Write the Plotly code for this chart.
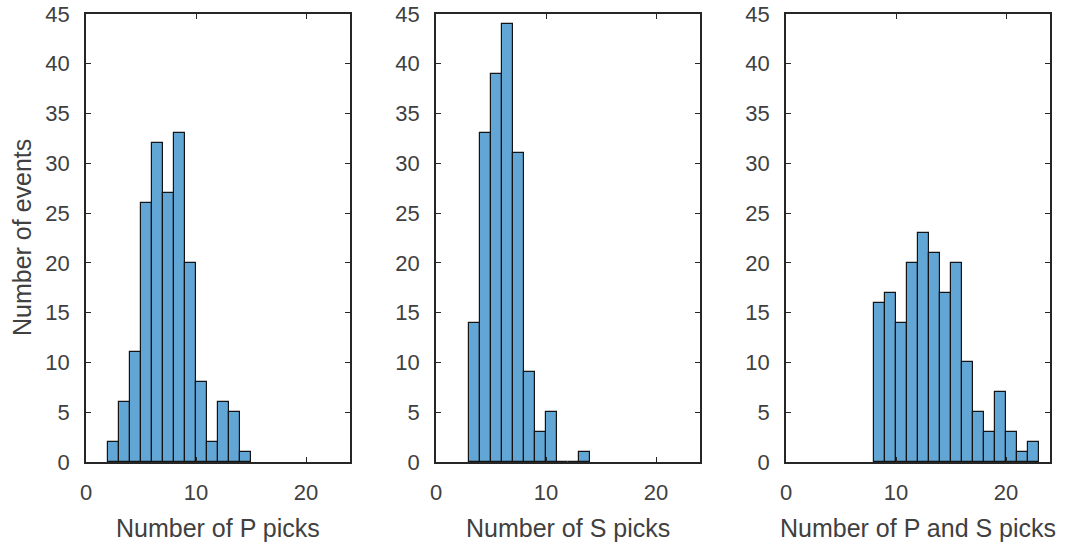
import plotly.graph_objects as go

# Histogram counts per unit-width bin (left edges given)
p_edges = [2, 3, 4, 5, 6, 7, 8, 9, 10, 11, 12, 13, 14]
p_counts = [2, 6, 11, 26, 32, 27, 33, 20, 8, 2, 6, 5, 1]

s_edges = [3, 4, 5, 6, 7, 8, 9, 10, 11, 12, 13]
s_counts = [14, 33, 39, 44, 31, 9, 3, 5, 0, 0, 1]

ps_edges = [8, 9, 10, 11, 12, 13, 14, 15, 16, 17, 18, 19, 20, 21, 22]
ps_counts = [16, 17, 14, 20, 23, 21, 17, 20, 10, 5, 3, 7, 3, 1, 2]

x_titles = ["Number of P picks", "Number of S picks", "Number of P and S picks"]
y_title = "Number of events"
x_ticks = [0, 10, 20]
y_ticks = [0, 5, 10, 15, 20, 25, 30, 35, 40, 45]

W, H = 1069, 546
x_domains = [(86, 350), (436, 700), (786, 1050)]
y_top, y_bot = 14, 462
y_domain = (1 - y_bot / H, 1 - y_top / H)

face = "rgb(98,166,214)"
edge = "rgb(20,20,20)"
axis_col = "rgb(38,38,38)"
text_col = "rgb(64,64,64)"
font_family = "Liberation Sans, Arial, sans-serif"
tick_size = 22
title_size = 25

fig = go.Figure()
series = [(p_edges, p_counts), (s_edges, s_counts), (ps_edges, ps_counts)]
for i, (edges, counts) in enumerate(series):
    suffix = "" if i == 0 else str(i + 1)
    fig.add_trace(go.Bar(
        x=[e + 0.5 for e in edges], y=counts, width=1,
        marker=dict(color=face, line=dict(color=edge, width=1.2)),
        xaxis="x" + suffix, yaxis="y" + suffix, showlegend=False,
    ))
    axis_common = dict(
        showline=True, linecolor=axis_col, linewidth=1.8, mirror="ticks",
        ticks="inside", ticklen=5, tickwidth=1.3, tickcolor=axis_col,
        showgrid=False, zeroline=False, automargin=False,
        tickfont=dict(size=tick_size, color=text_col, family=font_family),
    )
    fig.update_layout(**{
        "xaxis" + suffix: dict(
            domain=[x_domains[i][0] / W, x_domains[i][1] / W],
            range=[0, 24], tickvals=x_ticks, anchor="y" + suffix,
            ticklabelstandoff=10, **axis_common),
        "yaxis" + suffix: dict(
            domain=list(y_domain), range=[0, 45], tickvals=y_ticks,
            anchor="x" + suffix, ticklabelstandoff=10, **axis_common),
    })
    # axis title below each panel
    fig.add_annotation(
        text=x_titles[i], xref="paper", yref="paper",
        x=(x_domains[i][0] + x_domains[i][1]) / 2 / W, y=1 - 528 / H,
        xanchor="center", yanchor="middle", showarrow=False,
        font=dict(size=title_size, color=text_col, family=font_family),
    )

fig.add_annotation(
    text=y_title, xref="paper", yref="paper",
    x=22 / W, y=1 - (y_top + y_bot) / 2 / H, textangle=-90,
    xanchor="center", yanchor="middle", showarrow=False,
    font=dict(size=title_size, color=text_col, family=font_family),
)

fig.update_layout(
    width=W, height=H, margin=dict(l=0, r=0, t=0, b=0),
    plot_bgcolor="white", paper_bgcolor="white", bargap=0,
)
fig.write_html("out.html")
